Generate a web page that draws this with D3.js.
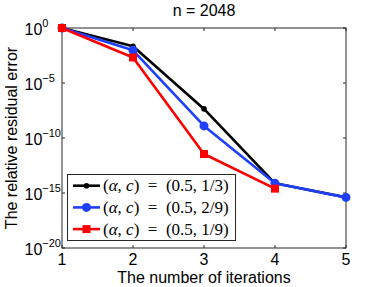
<!DOCTYPE html>
<html><head><meta charset="utf-8">
<script src="https://cdn.jsdelivr.net/npm/d3@7"></script>
<style>body{margin:0;background:#fff}svg{display:block}</style>
</head><body>
<script>
const iterations = [1, 2, 3, 4, 5];
const blackVals = [1, 2.2e-2, 4.4e-8, 7.6e-15, 4.0e-16];
const blueVals  = [1, 9.3e-3, 1.26e-9, 7.6e-15, 4.0e-16];
const redVals   = [1, 2.1e-3, 3.5e-12, 2.5e-15];
const yTickExps = [0, -5, -10, -15, -20];
const xTicks = [1, 2, 3, 4, 5];
const legendLabels = ["1/3", "2/9", "1/9"];
const titleText = "n = 2048";
const xLabel = "The number of iterations";
const yLabel = "The relative residual error";

const W = 382, H = 287;
const svg = d3.select("body").append("svg").attr("width", W).attr("height", H);
const x = d3.scaleLinear().domain([1, 5]).range([62, 346]);
const y = d3.scaleLog().domain([1e-20, 1]).range([248, 28]);
const axisColor = "#262626";
const sans = "'Liberation Sans', Arial, sans-serif";

// axes box
const [x0, x1] = x.range(), [y1, y0] = y.range();
svg.append("rect").attr("x", x0).attr("y", y0).attr("width", x1 - x0).attr("height", y1 - y0)
  .attr("fill", "none").attr("stroke", axisColor).attr("stroke-width", 1);

// ticks (inward, both sides)
xTicks.forEach(t => {
  const px = x(t);
  svg.append("line").attr("x1", px).attr("x2", px).attr("y1", y1).attr("y2", y1 - 3).attr("stroke", axisColor);
  svg.append("line").attr("x1", px).attr("x2", px).attr("y1", y0).attr("y2", y0 + 3).attr("stroke", axisColor);
  svg.append("text").attr("x", px).attr("y", 265).attr("text-anchor", "middle")
    .attr("font-family", sans).attr("font-size", 16).attr("fill", "#000").text(t);
});
yTickExps.forEach(e => {
  const py = y(Math.pow(10, e));
  svg.append("line").attr("x1", x0).attr("x2", x0 + 3).attr("y1", py).attr("y2", py).attr("stroke", axisColor);
  svg.append("line").attr("x1", x1).attr("x2", x1 - 3).attr("y1", py).attr("y2", py).attr("stroke", axisColor);
  const t = svg.append("text").attr("x", 24.5).attr("y", py + 7).attr("font-family", sans)
    .attr("font-size", 16).attr("fill", "#000");
  t.append("tspan").text("10");
  t.append("tspan").attr("dy", -8).attr("font-size", 11).text(e === 0 ? "0" : "\u2212" + (-e));
});

// title and labels
svg.append("text").attr("x", 204).attr("y", 16).attr("text-anchor", "middle")
  .attr("font-family", sans).attr("font-size", 16).attr("fill", "#000").text(titleText);
svg.append("text").attr("x", 204).attr("y", 283).attr("text-anchor", "middle")
  .attr("font-family", sans).attr("font-size", 16).attr("fill", "#000").text(xLabel);
svg.append("text").attr("transform", "translate(17,138) rotate(-90)").attr("text-anchor", "middle")
  .attr("font-family", sans).attr("font-size", 16).attr("fill", "#000").text(yLabel);

// series
const series = [
  {vals: blackVals, color: "#000000", marker: "dot"},
  {vals: blueVals, color: "#1f3fff", marker: "circle"},
  {vals: redVals, color: "#ff0000", marker: "square"}
];
const line = d3.line().x((d, i) => x(iterations[i])).y(d => y(d));
function marker(g, type, cx, cy, color) {
  if (type === "dot") g.append("circle").attr("cx", cx).attr("cy", cy).attr("r", 2.8).attr("fill", color);
  else if (type === "circle") g.append("circle").attr("cx", cx).attr("cy", cy).attr("r", 4.5).attr("fill", color);
  else g.append("rect").attr("x", cx - 4).attr("y", cy - 4).attr("width", 8).attr("height", 8).attr("fill", color);
}
series.forEach(s => {
  const g = svg.append("g");
  g.append("path").datum(s.vals).attr("d", line).attr("fill", "none")
    .attr("stroke", s.color).attr("stroke-width", 2.6).attr("stroke-linejoin", "round");
  s.vals.forEach((v, i) => marker(g, s.marker, x(iterations[i]), y(v), s.color));
});

// legend
const lg = svg.append("g");
lg.append("rect").attr("x", 67.5).attr("y", 174.5).attr("width", 168).attr("height", 66)
  .attr("fill", "#fff").attr("stroke", axisColor).attr("stroke-width", 1);
const serif = "'Liberation Serif', 'Times New Roman', serif";
series.forEach((s, i) => {
  const cy = 185.7 + i * 21.7;
  lg.append("line").attr("x1", 73).attr("x2", 100).attr("y1", cy).attr("y2", cy)
    .attr("stroke", s.color).attr("stroke-width", 2.6);
  marker(lg, s.marker, 86.5, cy, s.color);
  const t = lg.append("text").attr("x", 103).attr("y", cy + 5.5).attr("font-family", serif)
    .attr("font-size", 17).attr("fill", "#000");
  t.append("tspan").text("(");
  t.append("tspan").attr("font-style", "italic").text("\u03B1");
  t.append("tspan").text(", ");
  t.append("tspan").attr("font-style", "italic").text("c");
  t.append("tspan").text(")\u2002=\u2002(0.5, " + legendLabels[i] + ")");
});
</script>
</body></html>
